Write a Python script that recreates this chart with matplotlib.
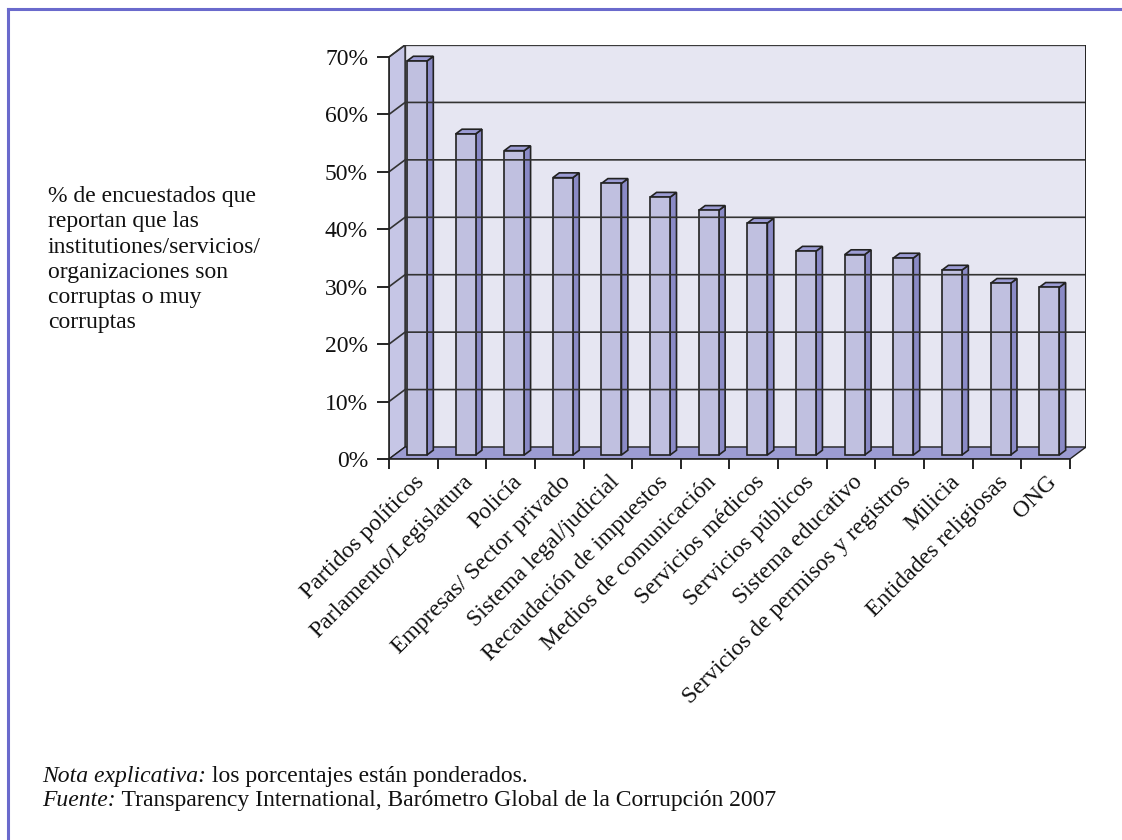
import matplotlib.pyplot as plt
from matplotlib.patches import Polygon, Rectangle
import matplotlib.transforms as mtransforms

categories = ["Partidos políticos", "Parlamento/Legislatura", "Policía",
              "Empresas/ Sector privado", "Sistema legal/judicial",
              "Recaudación de impuestos", "Medios de comunicación",
              "Servicios médicos", "Servicios públicos", "Sistema educativo",
              "Servicios de permisos y registros", "Milicia",
              "Entidades religiosas", "ONG"]
values = [68.6, 55.9, 53.0, 48.3, 47.3, 44.9, 42.6, 40.4, 35.5, 34.9, 34.3, 32.2, 29.9, 29.2]
yticks = [0, 10, 20, 30, 40, 50, 60, 70]
ytick_labels = ["0%", "10%", "20%", "30%", "40%", "50%", "60%", "70%"]

side_lines = ["% de encuestados que", "reportan que las", "institutiones/servicios/",
              "organizaciones son", "corruptas o muy", "corruptas"]
note_label = "Nota explicativa:"
note_text = " los porcentajes están ponderados."
source_label = "Fuente:"
source_text = " Transparency International, Barómetro Global de la Corrupción 2007"

plt.rcParams['font.family'] = ['Liberation Serif', 'DejaVu Serif']

# colours
wall_back = '#e6e6f2'
wall_left = '#c6c6e6'
floor_col = '#9c9cd2'
bar_front = '#c0c0e0'
bar_side = '#8a8ac6'
bar_top = '#9c9cd4'
edge = '#222222'
txt = '#111111'

W, H = 1122, 840
fig = plt.figure(figsize=(W / 100, H / 100), dpi=100)

# frame of the figure (top and left only)
fig.add_artist(plt.Line2D([8/W, 8/W], [0, 1 - 9/H], color='#6a6acc', lw=2.2))
fig.add_artist(plt.Line2D([8/W, 1], [1 - 9/H, 1 - 9/H], color='#6a6acc', lw=2.2))

n = len(categories)
DX, DY = 0.33, 2.09          # depth of the box, data units
top = yticks[-1]
ax = fig.add_axes([389/W, 1 - 459/H, 697/W, 414/H])
ax.set_xlim(0, n + DX)
ax.set_ylim(0, top + DY)
ax.patch.set_visible(False)

# walls and floor
ax.add_patch(Polygon([(DX, DY), (n + DX, DY), (n + DX, top + DY), (DX, top + DY)],
                     fc=wall_back, ec='#666666', lw=1))
ax.add_patch(Polygon([(0, 0), (DX, DY), (DX, top + DY), (0, top)],
                     fc=wall_left, ec=edge, lw=1))
ax.add_patch(Polygon([(0, 0), (n, 0), (n + DX, DY), (DX, DY)],
                     fc=floor_col, ec=edge, lw=1))
for v in yticks[1:]:
    ax.plot([0, DX, n + DX], [v, v + DY, v + DY], color='#333333', lw=1.2)
ax.plot([n + DX, n + DX], [DY, top + DY], color=edge, lw=1.4)

# bars
f0 = 0.33            # where the bar front sits in the depth
bd = 0.4             # bar depth as share of box depth
w = 0.41
for i, v in enumerate(values):
    x0 = i + 0.26 + f0 * DX
    y0 = f0 * DY
    y1 = y0 + v
    ddx, ddy = bd * DX, bd * DY
    ax.add_patch(Polygon([(x0 + w, y0), (x0 + w + ddx, y0 + ddy),
                          (x0 + w + ddx, y1 + ddy), (x0 + w, y1)],
                         fc=bar_side, ec=edge, lw=1.2))
    ax.add_patch(Polygon([(x0, y1), (x0 + w, y1), (x0 + w + ddx, y1 + ddy),
                          (x0 + ddx, y1 + ddy)],
                         fc=bar_top, ec=edge, lw=1.2))
    ax.add_patch(Rectangle((x0, y0), w, v, fc=bar_front, ec=edge, lw=1.2))

# axes
for s in ['top', 'right']:
    ax.spines[s].set_visible(False)
ax.spines['left'].set_bounds(0, top)
ax.spines['bottom'].set_bounds(0, n)
for s in ['left', 'bottom']:
    ax.spines[s].set_linewidth(1.2)
    ax.spines[s].set_color(edge)
ax.set_yticks(yticks)
ax.set_yticklabels(ytick_labels)
ax.set_xticks(range(n + 1))
ax.set_xticklabels([])
ax.tick_params(axis='y', direction='out', length=8.6, width=1.2, pad=6.5,
               labelsize=17, labelcolor=txt)
ax.tick_params(axis='x', direction='out', length=7, width=1.2)

off = mtransforms.ScaledTranslation(8/100, -20/100, fig.dpi_scale_trans)
for i, lab in enumerate(categories):
    ax.text(i + 0.5, 0, lab, transform=ax.transData + off, rotation=45,
            rotation_mode='anchor', ha='right', va='center', fontsize=17,
            color=txt)

# side label, one line at a time
for k, line in enumerate(side_lines):
    fig.text(48/W, 1 - (202 + 25.3 * k)/H, line, va='baseline', ha='left',
             fontsize=17, color=txt)

# notes
renderer = fig.canvas.get_renderer()
for label, text, ypix in [(note_label, note_text, 782), (source_label, source_text, 806)]:
    t = fig.text(42/W, 1 - ypix/H, label, style='italic', va='baseline',
                 fontsize=17, color=txt)
    bb = t.get_window_extent(renderer)
    fig.text(bb.x1 / fig.bbox.width, 1 - ypix/H, text, va='baseline',
             fontsize=17, color=txt)

fig.savefig('out.png', dpi=100)
